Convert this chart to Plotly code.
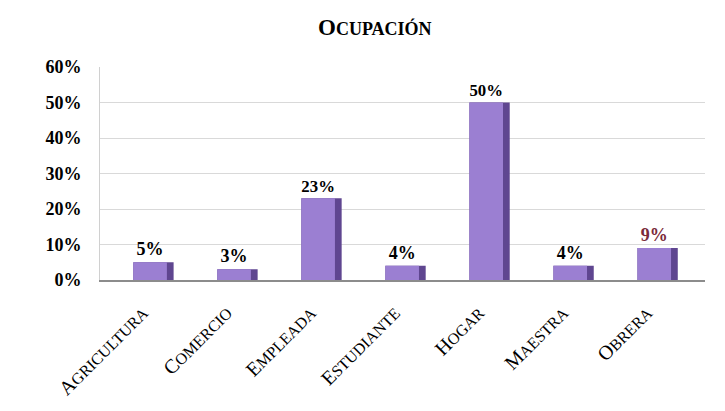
import plotly.graph_objects as go

categories = ["Agricultura", "Comercio", "Empleada", "Estudiante", "Hogar", "Maestra", "Obrera"]
values = [0.05, 0.03, 0.23, 0.04, 0.50, 0.04, 0.09]
value_labels = ["5%", "3%", "23%", "4%", "50%", "4%", "9%"]
label_colors = ["black", "black", "black", "black", "black", "black", "#7a2a3a"]
title_text = "Ocupación"
y_ticks = [0, 0.1, 0.2, 0.3, 0.4, 0.5, 0.6]
y_tick_labels = ["0%", "10%", "20%", "30%", "40%", "50%", "60%"]


def small_caps(word, big, small, pad=0):
    w = word.upper()
    tail = "\u00a0" * pad
    return (f"<span style='font-size:{big}px'>{w[0]}</span>"
            f"<span style='font-size:{small}px'>{w[1:]}{tail}</span>")


tick_text = [small_caps(c, 20, 16, pad=4) for c in categories]

FONT = "Liberation Serif"

fig = go.Figure()
# darker side of the bar
fig.add_trace(go.Bar(
    x=categories, y=values, width=0.48,
    marker=dict(color="#5f4690", line=dict(width=0)),
    hoverinfo="skip", showlegend=False,
))
# lighter front face
fig.add_trace(go.Bar(
    x=categories, y=values, width=0.40, offset=-0.24,
    marker=dict(color="#9b7fd2", line=dict(width=0)),
    text=[f"<b>{t}</b>" for t in value_labels], textposition="outside",
    textfont=dict(family=[FONT] * len(categories), size=18, color=label_colors),
    outsidetextfont=dict(family=[FONT] * len(categories), size=18, color=label_colors),
    cliponaxis=False, showlegend=False,
))

fig.update_layout(
    width=725, height=411,
    barmode="overlay",
    paper_bgcolor="white", plot_bgcolor="white",
    margin=dict(l=92, r=28, t=59, b=139),
    font=dict(family=FONT, color="black"),
    annotations=[dict(
        text="<b>" + small_caps(title_text, 23, 18) + "</b>",
        xref="paper", yref="paper", x=(367 - 92) / 605, y=1.0, yshift=40,
        showarrow=False, font=dict(family=FONT, size=23, color="black"),
        xanchor="center", yanchor="middle",
    )],
)
fig.update_xaxes(
    tickmode="array", tickvals=categories, ticktext=tick_text,
    tickangle=-45, tickfont=dict(family=FONT, size=20, color="black"),
    showline=True, linecolor="#8c8c8c", linewidth=2, showgrid=False,
    ticks="", range=[-0.636, 6.564],
)
fig.update_yaxes(
    range=[0, 0.6], tickmode="array", tickvals=y_ticks,
    ticktext=[f"<b>{t}</b>" for t in y_tick_labels],
    tickfont=dict(family=FONT, size=18, color="black"),
    showgrid=True, gridcolor="#d9d9d9", gridwidth=1,
    showline=True, linecolor="#d0d0d0", linewidth=1,
    zeroline=False, ticks="", ticklabelstandoff=14,
)

fig.write_html("out.html")
